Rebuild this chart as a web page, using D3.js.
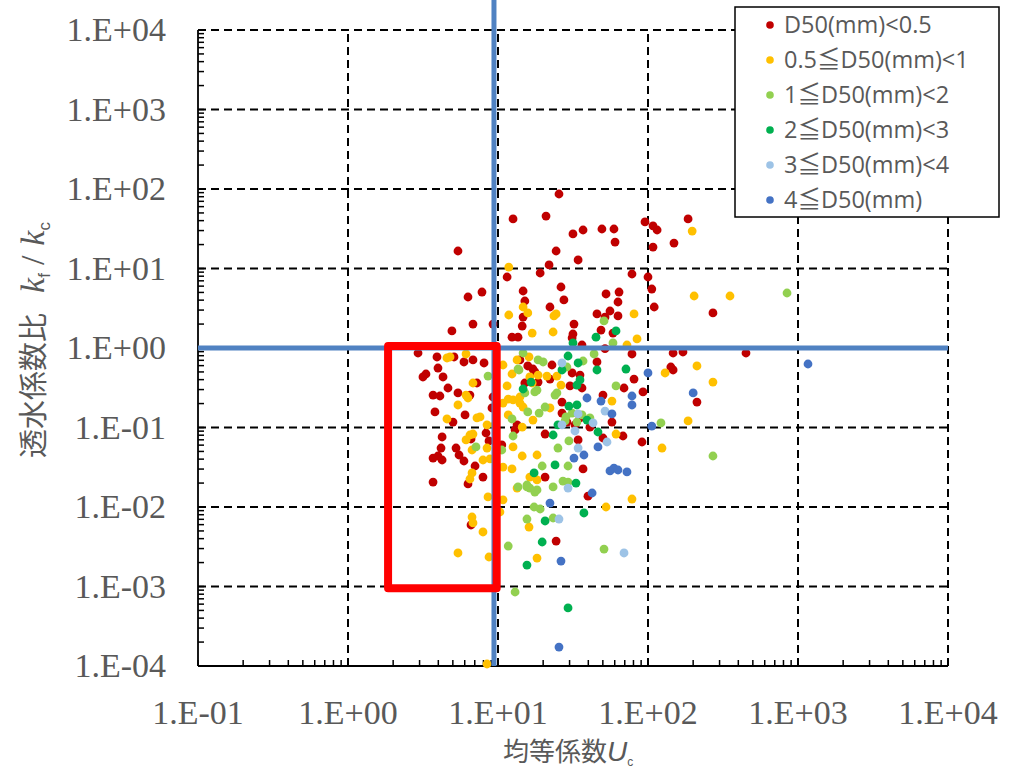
<!DOCTYPE html>
<html lang="ja">
<head>
<meta charset="UTF-8">
<title>透水係数比と均等係数</title>
<script src="https://d3js.org/d3.v7.min.js"></script>
<style>
  body { margin: 0; background: #fff; }
  .tick-label { font-family: "Liberation Serif", "Times New Roman", serif; font-size: 34px; fill: #595959; }
  .axis-title { font-family: "Noto Sans CJK JP", sans-serif; fill: #595959; }
  .legend text { font-family: "Open Sans", "Noto Sans CJK JP", sans-serif; font-size: 23.5px; fill: #595959; }
</style>
</head>
<body>
<svg width="1018" height="771"></svg>
<script>
// each point: [Uc, kf/kc]
const seriesLabels = ["D50(mm)<0.5", "0.5≦D50(mm)<1", "1≦D50(mm)<2", "2≦D50(mm)<3", "3≦D50(mm)<4", "4≦D50(mm)"];

const d50Below05 = [
  [5.41,16.6],[7.82,5.06],[6.31,4.38],[6.81,2.00],[4.93,1.64],[9.26,2.00],[2.93,0.865],[3.92,0.771],
  [5.09,0.771],[5.93,0.667],[6.81,0.707],[8.07,0.648],[3.98,0.560],[3.31,0.471],[3.16,0.432],[4.30,0.432],
  [4.64,0.314],[3.69,0.256],[4.10,0.249],[5.41,0.272],[6.50,0.256],[9.26,0.242],[7.24,0.363],[3.80,0.157],
  [6.03,0.144],[5.01,0.117],[9.12,0.176],[8.32,0.0853],[6.61,0.0717],[4.24,0.0760],[4.17,0.0552],[3.69,0.0413],
  [3.98,0.0438],[4.24,0.0390],[5.25,0.0552],[5.50,0.0451],[5.93,0.0379],[8.71,0.0677],[10.6,0.0603],[7.03,0.0328],
  [7.94,0.0238],[6.31,0.0195],[3.69,0.0206],[6.61,0.00594],[19.1,8.78],[11.5,7.82],[14.7,5.21],[15.1,3.90],
  [14.7,2.45],[14.5,1.89],[12.4,1.37],[13.6,1.37],[12.6,42.0],[20.9,45.7],[25.5,86.5],[31.6,27.2],
  [36.9,30.5],[49.3,31.4],[59.3,31.4],[60.3,21.5],[24.4,16.6],[34.2,12.8],[21.9,11.1],[95.5,38.5],
  [108,34.3],[115,30.5],[108,18.6],[185,42.0],[149,20.9],[78.2,8.53],[100,7.82],[106,5.52],
  [110,3.28],[26.3,5.85],[27.5,4.02],[22.2,3.28],[32.1,2.00],[31.6,1.50],[31.2,1.34],[36.3,1.09],
  [52.5,4.78],[64.1,5.06],[63.1,3.79],[55.8,2.92],[45.7,2.68],[51.7,2.45],[63.1,2.53],[48.6,1.68],
  [58.4,1.54],[51.7,0.98],[78.2,0.841],[147,0.865],[171,0.891],[14.0,0.707],[15.8,0.594],[17.1,0.544],
  [22.9,0.611],[45.7,0.667],[142,0.577],[147,0.529],[31.2,0.485],[17.6,0.500],[35.2,0.457],[80.7,0.407],
  [92.6,0.280],[69.2,0.314],[212,0.209],[50.1,0.256],[57.5,0.117],[41.0,0.101],[35.2,0.132],[26.7,0.209],
  [26.7,0.152],[30.2,0.333],[36.3,0.314],[22.2,0.407],[18.5,0.373],[28.8,0.117],[32.6,0.108],[50.1,0.0738],
  [68.1,0.0782],[91.2,0.0657],[34.2,0.0697],[20.6,0.0828],[13.4,0.108],[13.0,0.0931],[36.9,0.0301],[20.6,0.0238],
  [39.8,0.0137],[24.4,0.00373],[271,2.76],[450,0.865],[15.1,0.363]
];

const d50From05To1 = [
  [11.8,10.4],[14.7,3.28],[15.8,2.76],[11.8,2.60],[16.9,1.54],[4.57,0.749],[4.79,0.771],[6.12,0.841],
  [6.81,0.363],[6.12,0.256],[10.8,0.611],[16.1,0.771],[12.4,0.471],[16.3,0.432],[11.5,0.333],[6.31,0.235],
  [5.41,0.192],[4.57,0.128],[7.24,0.132],[7.59,0.136],[10.8,0.203],[12.6,0.222],[14.0,0.203],[14.7,0.181],
  [11.7,0.144],[17.1,0.124],[8.45,0.108],[9.55,0.108],[14.5,0.101],[6.50,0.0805],[6.81,0.0828],[6.12,0.0697],
  [6.71,0.0521],[8.45,0.0552],[8.85,0.0402],[7.94,0.0390],[6.71,0.0268],[6.50,0.0225],[12.6,0.0569],[14.5,0.0438],
  [12.4,0.0301],[10.8,0.0318],[16.3,0.0238],[8.58,0.0134],[10.8,0.0123],[10.3,0.00865],[6.71,0.00748],[6.81,0.00630],
  [7.94,0.00485],[16.1,0.00560],[5.41,0.00264],[8.71,0.00235],[18.2,0.00228],[8.45,0.000106],[23.6,2.53],[24.4,2.68],
  [23.3,1.59],[80.7,2.68],[84.5,1.30],[72.4,1.09],[197,29.6],[203,4.51],[352,4.51],[18.5,0.457],
  [21.2,0.444],[24.7,0.444],[130,0.485],[212,0.594],[26.3,0.342],[57.5,0.215],[16.9,0.363],[14.0,0.242],
  [11.7,0.228],[22.2,0.176],[61.2,0.0828],[185,0.121],[124,0.0552],[18.2,0.0451],[18.2,0.0219],[13.4,0.0173],
  [78.2,0.0126],[52.5,0.0100],[271,0.373],[13.4,0.707]
];

const d50From1To2 = [
  [14.7,0.865],[13.6,0.544],[15.1,0.272],[8.58,0.444],[12.4,0.128],[15.8,0.157],[12.6,0.0782],[7.13,0.0569],
  [10.6,0.0521],[13.6,0.0179],[15.6,0.0179],[18.2,0.0164],[17.4,0.0100],[15.6,0.00706],[11.7,0.00323],[13.0,0.000853],
  [50.9,2.19],[58.4,1.16],[18.5,0.707],[20.0,0.667],[13.8,0.529],[36.9,0.686],[28.8,0.577],[43.7,0.841],
  [61.2,0.333],[36.3,0.144],[33.6,0.117],[31.2,0.152],[28.4,0.136],[24.7,0.272],[24.0,0.256],[17.6,0.280],
  [18.2,0.296],[20.6,0.181],[18.8,0.152],[28.0,0.121],[41.0,0.132],[122,0.114],[29.7,0.0677],[25.1,0.0552],
  [19.7,0.0328],[29.3,0.0328],[15.6,0.0189],[16.3,0.0173],[17.6,0.0154],[23.3,0.0179],[27.1,0.0212],[29.3,0.0206],
  [19.1,0.00944],[23.3,0.00727],[50.9,0.00296],[845,4.92],[271,0.0438]
];

const d50From2To3 = [
  [16.6,0.373],[14.7,0.305],[17.4,0.0268],[15.6,0.00186],[31.6,1.16],[61.2,1.64],[45.0,1.37],[29.3,0.793],
  [34.2,0.648],[26.7,0.529],[45.7,0.529],[71.3,0.544],[39.2,0.124],[29.7,0.186],[33.6,0.192],[33.6,0.342],
  [35.2,0.396],[25.1,0.108],[46.4,0.0878],[23.3,0.0805],[24.0,0.0338],[33.1,0.0200],[37.4,0.00841],[20.6,0.00667],
  [19.7,0.00363],[29.3,0.000537]
];

const d50From3To4 = [
  [26.7,0.648],[51.7,0.161],[43.0,0.114],[34.2,0.148],[26.7,0.108],[32.6,0.0904],[53.3,0.0657],[34.2,0.0552],
  [29.3,0.0173],[25.5,0.00706],[69.2,0.00264]
];

const d50Above4 = [
  [100,0.485],[200,0.272],[78.2,0.249],[78.2,0.192],[48.6,0.215],[39.2,0.235],[57.5,0.148],[46.4,0.0569],
  [106,0.104],[37.4,0.0451],[32.1,0.0413],[55.8,0.0284],[59.3,0.0309],[63.1,0.0292],[72.4,0.0276],[42.4,0.0150],
  [22.2,0.0112],[26.3,0.00209],[25.5,0.000173],[1166,0.629]
];

const xTicks = [0.1, 1, 10, 100, 1000, 10000];
const xTickLabels = ["1.E-01", "1.E+00", "1.E+01", "1.E+02", "1.E+03", "1.E+04"];
const yTicks = [1e-4, 1e-3, 1e-2, 1e-1, 1, 10, 100, 1000, 10000];
const yTickLabels = ["1.E-04", "1.E-03", "1.E-02", "1.E-01", "1.E+00", "1.E+01", "1.E+02", "1.E+03", "1.E+04"];

// reference lines and highlight box (in data units)
const refUc = 9.4;
const refK = 1;
const boxUc = [1.85, 9.8];
const boxK = [0.00095, 1.06];

const seriesData = [d50Below05, d50From05To1, d50From1To2, d50From2To3, d50From3To4, d50Above4];
const colors = ["#C00000", "#FFC000", "#92D050", "#00B050", "#9DC3E6", "#4472C4"];

const svg = d3.select("svg");
const x = d3.scaleLog().domain([0.1, 10000]).range([198, 948]);
const y = d3.scaleLog().domain([1e-4, 1e4]).range([666, 30]);

// grid lines
const grid = svg.append("g");
grid.selectAll("line.gx").data(xTicks.slice(1)).enter().append("line")
  .attr("x1", d => x(d)).attr("x2", d => x(d))
  .attr("y1", y.range()[0]).attr("y2", y.range()[1])
  .attr("stroke", "#000").attr("stroke-width", 2).attr("stroke-dasharray", "8,5");
grid.selectAll("line.gy").data(yTicks.slice(1)).enter().append("line")
  .attr("y1", d => y(d)).attr("y2", d => y(d))
  .attr("x1", x.range()[0]).attr("x2", x.range()[1])
  .attr("stroke", "#000").attr("stroke-width", 2).attr("stroke-dasharray", "8,5");

// minor ticks (inside)
function minorValues(ticks) {
  const out = [];
  for (let i = 0; i < ticks.length - 1; i++) {
    for (let m = 1; m <= 9; m++) out.push(ticks[i] * m);
  }
  out.push(ticks[ticks.length - 1]);
  return out;
}
const axes = svg.append("g");
axes.selectAll("line.mx").data(minorValues(xTicks)).enter().append("line")
  .attr("x1", d => x(d)).attr("x2", d => x(d))
  .attr("y1", y.range()[0]).attr("y2", y.range()[0] - 6)
  .attr("stroke", "#000").attr("stroke-width", 1.5);
axes.selectAll("line.my").data(minorValues(yTicks)).enter().append("line")
  .attr("y1", d => y(d)).attr("y2", d => y(d))
  .attr("x1", x.range()[0]).attr("x2", x.range()[0] + 6)
  .attr("stroke", "#000").attr("stroke-width", 1.5);
axes.append("line")
  .attr("x1", x.range()[0]).attr("x2", x.range()[1])
  .attr("y1", y.range()[0]).attr("y2", y.range()[0])
  .attr("stroke", "#000").attr("stroke-width", 1.8);
axes.append("line")
  .attr("x1", x.range()[0]).attr("x2", x.range()[0])
  .attr("y1", y.range()[0]).attr("y2", y.range()[1])
  .attr("stroke", "#000").attr("stroke-width", 1.8);

// tick labels
svg.selectAll("text.xl").data(xTicks).enter().append("text")
  .attr("class", "tick-label")
  .attr("x", d => x(d)).attr("y", 724)
  .attr("text-anchor", "middle")
  .text((d, i) => xTickLabels[i]);
svg.selectAll("text.yl").data(yTicks).enter().append("text")
  .attr("class", "tick-label")
  .attr("x", 166).attr("y", d => y(d) + 11)
  .attr("text-anchor", "end")
  .text((d, i) => yTickLabels[i]);

// points
seriesData.forEach((pts, i) => {
  svg.append("g").selectAll("circle").data(pts).enter().append("circle")
    .attr("cx", d => x(d[0])).attr("cy", d => y(d[1]))
    .attr("r", 4.4)
    .attr("fill", colors[i]);
});

// reference lines
svg.append("line")
  .attr("x1", x(refUc)).attr("x2", x(refUc))
  .attr("y1", y(2.5e4)).attr("y2", y(1e-4))
  .attr("stroke", "#5082C2").attr("stroke-width", 5);
svg.append("line")
  .attr("x1", x(0.1)).attr("x2", x(1e4))
  .attr("y1", y(refK)).attr("y2", y(refK))
  .attr("stroke", "#5082C2").attr("stroke-width", 5);

// highlight box
svg.append("rect")
  .attr("x", x(boxUc[0])).attr("y", y(boxK[1]))
  .attr("width", x(boxUc[1]) - x(boxUc[0]))
  .attr("height", y(boxK[0]) - y(boxK[1]))
  .attr("fill", "none").attr("stroke", "#FF0000").attr("stroke-width", 8)
  .attr("stroke-linejoin", "round");

// axis titles
const xt = svg.append("text").attr("class", "axis-title")
  .attr("x", 568).attr("y", 761).attr("text-anchor", "middle").style("font-size", "26px");
xt.append("tspan").text("均等係数");
xt.append("tspan").attr("font-family", "Liberation Sans, sans-serif").attr("font-style", "italic").style("font-size", "28px").text("U");
xt.append("tspan").attr("font-family", "Liberation Sans, sans-serif").style("font-size", "12px").attr("dy", 5).text("c");

const yt = svg.append("text").attr("class", "axis-title")
  .attr("transform", "translate(44,340) rotate(-90)")
  .attr("text-anchor", "middle").style("font-size", "29px");
yt.append("tspan").text("透水係数比");
yt.append("tspan").attr("font-family", "Liberation Serif, serif").attr("font-style", "italic")
  .style("font-size", "34px").attr("dx", 20).text("k");
yt.append("tspan").attr("font-family", "Liberation Sans, sans-serif").style("font-size", "17px").attr("dy", 6).text("f");
yt.append("tspan").attr("font-family", "Liberation Serif, serif").style("font-size", "34px").attr("dy", -6).attr("dx", 8).text("/");
yt.append("tspan").attr("font-family", "Liberation Serif, serif").attr("font-style", "italic")
  .style("font-size", "34px").attr("dx", 10).text("k");
yt.append("tspan").attr("font-family", "Liberation Sans, sans-serif").style("font-size", "17px").attr("dy", 6).text("c");

// legend
const legend = svg.append("g").attr("class", "legend");
legend.append("rect")
  .attr("x", 735).attr("y", 7).attr("width", 264).attr("height", 210)
  .attr("fill", "#fff").attr("stroke", "#000").attr("stroke-width", 1.5);
seriesLabels.forEach((label, i) => {
  const cy = 25 + i * 35;
  legend.append("circle").attr("cx", 770).attr("cy", cy).attr("r", 3.8).attr("fill", colors[i]);
  legend.append("text").attr("x", 784).attr("y", cy + 8).text(label);
});
</script>
</body>
</html>
